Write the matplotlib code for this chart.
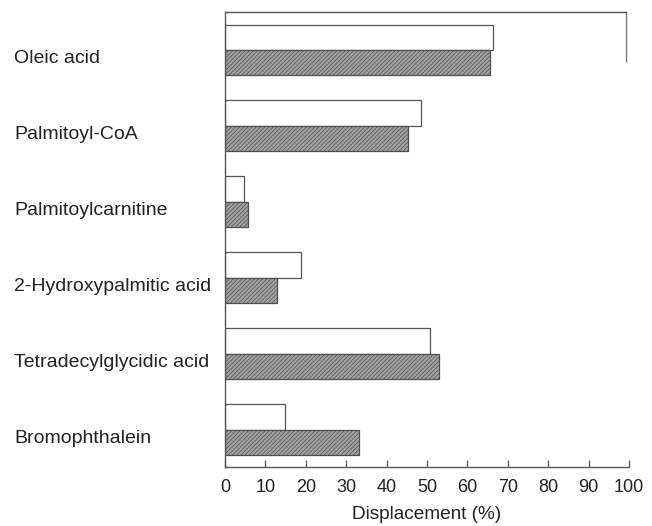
import matplotlib
matplotlib.use("Agg")
import matplotlib.pyplot as plt
import numpy as np

plt.rcParams['font.family'] = ['Liberation Sans', 'DejaVu Sans']
plt.rcParams['hatch.color'] = '#6a6a6a'
plt.rcParams['hatch.linewidth'] = 0.5

compounds = ["Oleic acid", "Palmitoyl-CoA", "Palmitoylcarnitine",
             "2-Hydroxypalmitic acid", "Tetradecylglycidic acid", "Bromophthalein"]
open_vals = [66.4, 48.4, 4.7, 18.8, 50.8, 14.9]
hatched_vals = [65.6, 45.4, 5.6, 12.8, 53.0, 33.2]
xticks = [0, 10, 20, 30, 40, 50, 60, 70, 80, 90, 100]
xlabel = "Displacement (%)"

fig = plt.figure(figsize=(6.52, 5.26), dpi=100)
ax = fig.add_axes([225/652, (526-467)/526, 404/652, 455/526])

y = np.arange(len(compounds))
h = 0.335
ax.barh(y - h/2, open_vals, height=h, color='white', edgecolor='#555555', linewidth=0.9)
ax.barh(y + h/2, hatched_vals, height=h, color='#a2a2a2', edgecolor='#505050',
        linewidth=0.9, hatch='////////')

ax.set_xlim(0, 100)
ax.set_ylim(5.49, -0.5)
ax.set_yticks([])
ax.set_xticks(xticks)
ax.set_xticklabels([str(t) for t in xticks], fontsize=13, color='#222222')
ax.tick_params(axis='x', direction='in', length=5, width=0.9, color='#555555', pad=9)
ax.set_xlabel(xlabel, fontsize=13.7, color='#222222', labelpad=7)

for s in ['left', 'bottom', 'top']:
    ax.spines[s].set_color('#555555')
    ax.spines[s].set_linewidth(1.0)
ax.spines['top'].set_bounds(0, 99.2)
ax.spines['right'].set_position(('data', 99.2))
ax.spines['right'].set_bounds(-0.5, 0.15)
ax.spines['right'].set_color('#777777')
ax.spines['right'].set_linewidth(1.0)

for i, name in enumerate(compounds):
    ax.text(-211/404, i + 0.11, name, transform=ax.get_yaxis_transform(),
            ha='left', va='center', fontsize=14, color='#222222')

fig.savefig("out.png", dpi=100)
